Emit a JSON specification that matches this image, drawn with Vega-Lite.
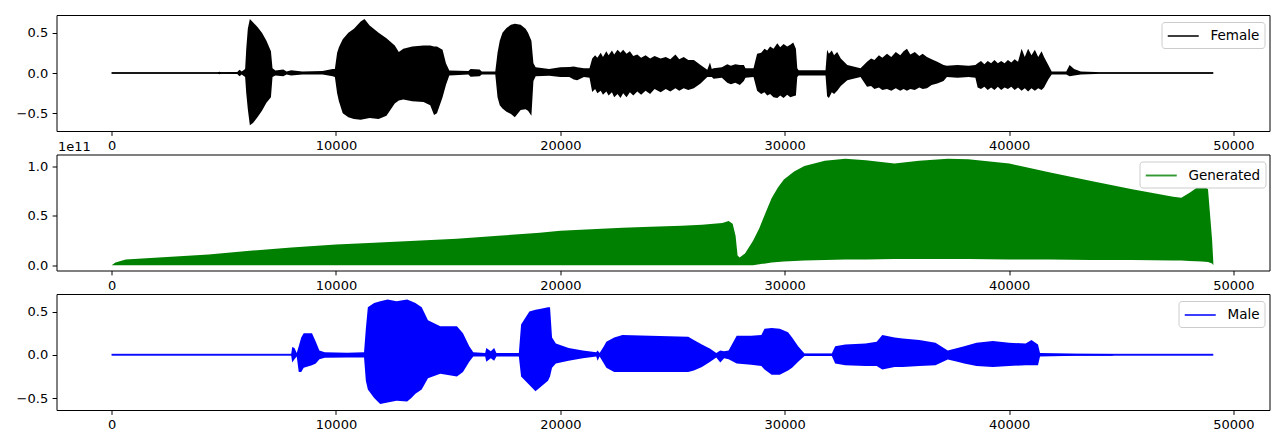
{
  "$schema": "https://vega.github.io/schema/vega-lite/v6.json",
  "padding": {"left": 15.5, "top": 14, "right": 5, "bottom": 5},
  "bounds": "flush",
  "spacing": 23.5,
  "background": "white",
  "config": {
    "view": {"stroke": "black", "strokeWidth": 1},
    "axis": {"domain": false, "grid": false, "tickColor": "black", "tickSize": 4.4, "tickWidth": 1, "labelPadding": 4.4, "labelFont": "DejaVu Sans", "labelFontSize": 13, "labelColor": "black"},
    "legend": {"orient": "none", "legendY": 7, "padding": 5, "strokeColor": "#cccccc", "fillColor": "white", "cornerRadius": 3, "symbolType": "M-1,0H3", "symbolSize": 240, "symbolStrokeWidth": 1.9, "labelFont": "DejaVu Sans", "labelFontSize": 13.5, "labelColor": "black", "labelOffset": 26, "title": null}
  },
  "resolve": {"scale": {"color": "independent", "x": "independent", "y": "independent"}, "legend": {"color": "independent"}},
  "datasets": {
    "female": [
      {"x": 0, "hi": 0.007, "lo": -0.007}, {"x": 4700, "hi": 0.007, "lo": -0.007}, {"x": 4800, "hi": 0.015, "lo": -0.015}, {"x": 4900, "hi": 0.01, "lo": -0.01},
      {"x": 5600, "hi": 0.012, "lo": -0.012}, {"x": 5700, "hi": 0.04, "lo": -0.04}, {"x": 5800, "hi": 0.02, "lo": -0.02}, {"x": 5950, "hi": 0.05, "lo": -0.05},
      {"x": 6000, "hi": 0.3, "lo": -0.25}, {"x": 6070, "hi": 0.55, "lo": -0.45}, {"x": 6160, "hi": 0.67, "lo": -0.65}, {"x": 6300, "hi": 0.63, "lo": -0.62},
      {"x": 6500, "hi": 0.57, "lo": -0.55}, {"x": 6700, "hi": 0.5, "lo": -0.47}, {"x": 6900, "hi": 0.4, "lo": -0.37}, {"x": 7100, "hi": 0.27, "lo": -0.3},
      {"x": 7170, "hi": 0.06, "lo": -0.05}, {"x": 7300, "hi": 0.03, "lo": -0.03}, {"x": 7650, "hi": 0.045, "lo": -0.04}, {"x": 7800, "hi": 0.02, "lo": -0.02},
      {"x": 8000, "hi": 0.035, "lo": -0.03}, {"x": 8500, "hi": 0.02, "lo": -0.02}, {"x": 9400, "hi": 0.025, "lo": -0.02}, {"x": 9850, "hi": 0.05, "lo": -0.04},
      {"x": 9950, "hi": 0.05, "lo": -0.05}, {"x": 10050, "hi": 0.25, "lo": -0.25}, {"x": 10130, "hi": 0.32, "lo": -0.35}, {"x": 10300, "hi": 0.42, "lo": -0.5},
      {"x": 10550, "hi": 0.5, "lo": -0.55}, {"x": 10800, "hi": 0.55, "lo": -0.57}, {"x": 11100, "hi": 0.64, "lo": -0.58}, {"x": 11270, "hi": 0.67, "lo": -0.57},
      {"x": 11500, "hi": 0.59, "lo": -0.56}, {"x": 11900, "hi": 0.5, "lo": -0.57}, {"x": 12250, "hi": 0.43, "lo": -0.53}, {"x": 12620, "hi": 0.34, "lo": -0.38},
      {"x": 12800, "hi": 0.26, "lo": -0.34}, {"x": 13000, "hi": 0.3, "lo": -0.33}, {"x": 13400, "hi": 0.33, "lo": -0.35}, {"x": 13900, "hi": 0.34, "lo": -0.36},
      {"x": 14200, "hi": 0.34, "lo": -0.4}, {"x": 14370, "hi": 0.33, "lo": -0.52}, {"x": 14500, "hi": 0.33, "lo": -0.5}, {"x": 14750, "hi": 0.29, "lo": -0.3},
      {"x": 14900, "hi": 0.12, "lo": -0.15}, {"x": 15050, "hi": 0.03, "lo": -0.03}, {"x": 15900, "hi": 0.025, "lo": -0.02}, {"x": 16000, "hi": 0.05, "lo": -0.045},
      {"x": 16400, "hi": 0.045, "lo": -0.04}, {"x": 16500, "hi": 0.02, "lo": -0.02}, {"x": 17100, "hi": 0.02, "lo": -0.02}, {"x": 17200, "hi": 0.25, "lo": -0.3},
      {"x": 17300, "hi": 0.4, "lo": -0.4}, {"x": 17420, "hi": 0.5, "lo": -0.44}, {"x": 17600, "hi": 0.56, "lo": -0.48}, {"x": 17800, "hi": 0.6, "lo": -0.51},
      {"x": 17970, "hi": 0.61, "lo": -0.55}, {"x": 18230, "hi": 0.6, "lo": -0.46}, {"x": 18450, "hi": 0.55, "lo": -0.45}, {"x": 18560, "hi": 0.5, "lo": -0.47},
      {"x": 18710, "hi": 0.4, "lo": -0.53}, {"x": 18800, "hi": 0.12, "lo": -0.1}, {"x": 18900, "hi": 0.07, "lo": -0.04}, {"x": 19500, "hi": 0.05, "lo": -0.035},
      {"x": 20000, "hi": 0.07, "lo": -0.05}, {"x": 20400, "hi": 0.075, "lo": -0.05}, {"x": 20600, "hi": 0.08, "lo": -0.08}, {"x": 20750, "hi": 0.07, "lo": -0.09},
      {"x": 21050, "hi": 0.06, "lo": -0.05}, {"x": 21300, "hi": 0.06, "lo": -0.06},
      {"x": 21420, "hi": 0.18, "lo": -0.235}, {"x": 21550, "hi": 0.22, "lo": -0.2}, {"x": 21650, "hi": 0.19, "lo": -0.25}, {"x": 21800, "hi": 0.25, "lo": -0.22},
      {"x": 21900, "hi": 0.2, "lo": -0.27}, {"x": 22050, "hi": 0.27, "lo": -0.23}, {"x": 22150, "hi": 0.22, "lo": -0.28}, {"x": 22300, "hi": 0.28, "lo": -0.24},
      {"x": 22400, "hi": 0.23, "lo": -0.3}, {"x": 22550, "hi": 0.29, "lo": -0.26}, {"x": 22680, "hi": 0.25, "lo": -0.31}, {"x": 22800, "hi": 0.29, "lo": -0.25},
      {"x": 22950, "hi": 0.24, "lo": -0.3}, {"x": 23100, "hi": 0.27, "lo": -0.24}, {"x": 23250, "hi": 0.21, "lo": -0.28}, {"x": 23430, "hi": 0.23, "lo": -0.23},
      {"x": 23600, "hi": 0.19, "lo": -0.27}, {"x": 23800, "hi": 0.22, "lo": -0.22}, {"x": 24000, "hi": 0.18, "lo": -0.26}, {"x": 24200, "hi": 0.21, "lo": -0.2},
      {"x": 24470, "hi": 0.18, "lo": -0.24}, {"x": 24700, "hi": 0.2, "lo": -0.2}, {"x": 24900, "hi": 0.17, "lo": -0.23}, {"x": 25130, "hi": 0.23, "lo": -0.19},
      {"x": 25300, "hi": 0.17, "lo": -0.22}, {"x": 25500, "hi": 0.2, "lo": -0.19}, {"x": 25700, "hi": 0.16, "lo": -0.21}, {"x": 25950, "hi": 0.16, "lo": -0.19},
      {"x": 26250, "hi": 0.1, "lo": -0.13}, {"x": 26550, "hi": 0.04, "lo": -0.05}, {"x": 26670, "hi": 0.13, "lo": -0.05}, {"x": 26750, "hi": 0.05, "lo": -0.05},
      {"x": 26830, "hi": 0.06, "lo": -0.07}, {"x": 27200, "hi": 0.07, "lo": -0.06}, {"x": 27440, "hi": 0.11, "lo": -0.12}, {"x": 27600, "hi": 0.09, "lo": -0.14},
      {"x": 27800, "hi": 0.11, "lo": -0.12}, {"x": 28000, "hi": 0.1, "lo": -0.15}, {"x": 28180, "hi": 0.1, "lo": -0.1}, {"x": 28250, "hi": 0.06, "lo": -0.06},
      {"x": 28610, "hi": 0.06, "lo": -0.05}, {"x": 28770, "hi": 0.24, "lo": -0.22}, {"x": 28950, "hi": 0.25, "lo": -0.26}, {"x": 29100, "hi": 0.3, "lo": -0.24},
      {"x": 29220, "hi": 0.28, "lo": -0.28}, {"x": 29350, "hi": 0.33, "lo": -0.26}, {"x": 29500, "hi": 0.3, "lo": -0.3}, {"x": 29670, "hi": 0.37, "lo": -0.31},
      {"x": 29800, "hi": 0.32, "lo": -0.28}, {"x": 29950, "hi": 0.36, "lo": -0.31}, {"x": 30110, "hi": 0.33, "lo": -0.27}, {"x": 30250, "hi": 0.35, "lo": -0.3},
      {"x": 30380, "hi": 0.38, "lo": -0.29}, {"x": 30500, "hi": 0.3, "lo": -0.28}, {"x": 30560, "hi": 0.06, "lo": -0.05}, {"x": 30620, "hi": 0.035, "lo": -0.03},
      {"x": 31820, "hi": 0.035, "lo": -0.03}, {"x": 31890, "hi": 0.29, "lo": -0.29}, {"x": 31970, "hi": 0.24, "lo": -0.31}, {"x": 32100, "hi": 0.28, "lo": -0.24},
      {"x": 32200, "hi": 0.22, "lo": -0.26}, {"x": 32340, "hi": 0.26, "lo": -0.22}, {"x": 32500, "hi": 0.18, "lo": -0.16}, {"x": 32790, "hi": 0.1, "lo": -0.09},
      {"x": 33380, "hi": 0.06, "lo": -0.05}, {"x": 33670, "hi": 0.14, "lo": -0.17}, {"x": 33850, "hi": 0.18, "lo": -0.16}, {"x": 34000, "hi": 0.16, "lo": -0.2},
      {"x": 34200, "hi": 0.22, "lo": -0.18}, {"x": 34350, "hi": 0.19, "lo": -0.21}, {"x": 34560, "hi": 0.24, "lo": -0.2}, {"x": 34750, "hi": 0.2, "lo": -0.22},
      {"x": 34950, "hi": 0.26, "lo": -0.19}, {"x": 35150, "hi": 0.22, "lo": -0.22}, {"x": 35300, "hi": 0.27, "lo": -0.2}, {"x": 35450, "hi": 0.3, "lo": -0.22},
      {"x": 35600, "hi": 0.23, "lo": -0.2}, {"x": 35800, "hi": 0.26, "lo": -0.21}, {"x": 36000, "hi": 0.21, "lo": -0.18}, {"x": 36150, "hi": 0.24, "lo": -0.2},
      {"x": 36340, "hi": 0.2, "lo": -0.19}, {"x": 36550, "hi": 0.17, "lo": -0.15}, {"x": 36800, "hi": 0.14, "lo": -0.13}, {"x": 37080, "hi": 0.1, "lo": -0.1},
      {"x": 37230, "hi": 0.09, "lo": -0.05}, {"x": 37700, "hi": 0.1, "lo": -0.06}, {"x": 38200, "hi": 0.09, "lo": -0.05}, {"x": 38500, "hi": 0.1, "lo": -0.06},
      {"x": 38600, "hi": 0.12, "lo": -0.18}, {"x": 38750, "hi": 0.15, "lo": -0.2}, {"x": 38900, "hi": 0.11, "lo": -0.17}, {"x": 39050, "hi": 0.15, "lo": -0.21},
      {"x": 39200, "hi": 0.12, "lo": -0.18}, {"x": 39350, "hi": 0.16, "lo": -0.21}, {"x": 39500, "hi": 0.12, "lo": -0.17}, {"x": 39650, "hi": 0.15, "lo": -0.21},
      {"x": 39800, "hi": 0.12, "lo": -0.18}, {"x": 39950, "hi": 0.16, "lo": -0.2}, {"x": 40100, "hi": 0.13, "lo": -0.17}, {"x": 40250, "hi": 0.17, "lo": -0.21},
      {"x": 40400, "hi": 0.14, "lo": -0.18}, {"x": 40560, "hi": 0.3, "lo": -0.22}, {"x": 40700, "hi": 0.2, "lo": -0.19}, {"x": 40850, "hi": 0.3, "lo": -0.23},
      {"x": 41000, "hi": 0.22, "lo": -0.19}, {"x": 41150, "hi": 0.29, "lo": -0.22}, {"x": 41300, "hi": 0.2, "lo": -0.19}, {"x": 41450, "hi": 0.27, "lo": -0.21},
      {"x": 41560, "hi": 0.2, "lo": -0.18}, {"x": 41750, "hi": 0.1, "lo": -0.08}, {"x": 41900, "hi": 0.02, "lo": -0.02}, {"x": 42550, "hi": 0.02, "lo": -0.02},
      {"x": 42700, "hi": 0.1, "lo": -0.04}, {"x": 42900, "hi": 0.05, "lo": -0.03}, {"x": 43200, "hi": 0.02, "lo": -0.02}, {"x": 43850, "hi": 0.012, "lo": -0.012},
      {"x": 44000, "hi": 0.007, "lo": -0.007}, {"x": 49100, "hi": 0.007, "lo": -0.007}
    ],
    "generated": [
      {"x": 0, "hi": 0, "lo": 0}, {"x": 170, "hi": 3e9, "lo": 0}, {"x": 630, "hi": 6e9, "lo": 0}, {"x": 2470, "hi": 8.5e9, "lo": 0},
      {"x": 4320, "hi": 1.1e10, "lo": 0}, {"x": 6160, "hi": 1.47e10, "lo": 0}, {"x": 8010, "hi": 1.8e10, "lo": 0}, {"x": 10000, "hi": 2.1e10, "lo": 0},
      {"x": 11700, "hi": 2.3e10, "lo": 0}, {"x": 13540, "hi": 2.5e10, "lo": 0}, {"x": 15390, "hi": 2.7e10, "lo": 0}, {"x": 17230, "hi": 3.0e10, "lo": 0},
      {"x": 19080, "hi": 3.3e10, "lo": 0}, {"x": 20000, "hi": 3.5e10, "lo": 0}, {"x": 20920, "hi": 3.6e10, "lo": 0}, {"x": 22770, "hi": 3.8e10, "lo": 0},
      {"x": 24020, "hi": 3.9e10, "lo": 0}, {"x": 25400, "hi": 4.0e10, "lo": 0}, {"x": 26310, "hi": 4.1e10, "lo": 0}, {"x": 27220, "hi": 4.3e10, "lo": 0},
      {"x": 27500, "hi": 4.5e10, "lo": 0}, {"x": 27680, "hi": 4.2e10, "lo": 0}, {"x": 27810, "hi": 3.0e10, "lo": 0}, {"x": 27900, "hi": 1.0e10, "lo": 0},
      {"x": 27990, "hi": 8e9, "lo": 0}, {"x": 28230, "hi": 1.2e10, "lo": 0}, {"x": 28590, "hi": 2.5e10, "lo": 0}, {"x": 28868, "hi": 3.75e10, "lo": 1e9},
      {"x": 29142, "hi": 5.3e10, "lo": 2e9}, {"x": 29416, "hi": 6.8e10, "lo": 3e9}, {"x": 29690, "hi": 7.85e10, "lo": 3.5e9}, {"x": 29963, "hi": 8.7e10, "lo": 4e9},
      {"x": 30420, "hi": 9.5e10, "lo": 4.5e9}, {"x": 30877, "hi": 1.005e11, "lo": 5e9}, {"x": 31790, "hi": 1.06e11, "lo": 5.5e9}, {"x": 32703, "hi": 1.08e11, "lo": 6e9},
      {"x": 33616, "hi": 1.065e11, "lo": 6e9}, {"x": 34895, "hi": 1.03e11, "lo": 6.5e9}, {"x": 35991, "hi": 1.06e11, "lo": 6.5e9}, {"x": 37270, "hi": 1.08e11, "lo": 6.5e9},
      {"x": 38183, "hi": 1.075e11, "lo": 6.5e9}, {"x": 40009, "hi": 1.03e11, "lo": 6e9}, {"x": 41836, "hi": 9.4e10, "lo": 6e9}, {"x": 43662, "hi": 8.55e10, "lo": 5.5e9},
      {"x": 45489, "hi": 7.7e10, "lo": 5.5e9}, {"x": 47315, "hi": 6.95e10, "lo": 5e9}, {"x": 47680, "hi": 6.85e10, "lo": 5e9}, {"x": 48046, "hi": 7.35e10, "lo": 4.5e9},
      {"x": 48594, "hi": 8.2e10, "lo": 4e9}, {"x": 48868, "hi": 7.7e10, "lo": 3.5e9}, {"x": 49050, "hi": 2.6e10, "lo": 2e9}, {"x": 49105, "hi": 3e9, "lo": 0}
    ],
    "male": [
      {"x": 0, "hi": 0.006, "lo": -0.006}, {"x": 8000, "hi": 0.006, "lo": -0.006}, {"x": 8050, "hi": 0.09, "lo": -0.09}, {"x": 8150, "hi": 0.08, "lo": -0.05},
      {"x": 8250, "hi": 0.02, "lo": -0.02}, {"x": 8340, "hi": 0.1, "lo": -0.2}, {"x": 8450, "hi": 0.2, "lo": -0.2}, {"x": 8560, "hi": 0.25, "lo": -0.15},
      {"x": 8930, "hi": 0.25, "lo": -0.12}, {"x": 9100, "hi": 0.15, "lo": -0.1}, {"x": 9260, "hi": 0.05, "lo": -0.05}, {"x": 9500, "hi": 0.03, "lo": -0.035},
      {"x": 10500, "hi": 0.025, "lo": -0.03}, {"x": 11250, "hi": 0.03, "lo": -0.03}, {"x": 11330, "hi": 0.3, "lo": -0.3}, {"x": 11420, "hi": 0.55, "lo": -0.4},
      {"x": 11700, "hi": 0.6, "lo": -0.5}, {"x": 11970, "hi": 0.62, "lo": -0.57}, {"x": 12300, "hi": 0.64, "lo": -0.55}, {"x": 12700, "hi": 0.62, "lo": -0.53}, {"x": 13170, "hi": 0.64, "lo": -0.54},
      {"x": 13360, "hi": 0.62, "lo": -0.5}, {"x": 13540, "hi": 0.6, "lo": -0.45}, {"x": 13820, "hi": 0.55, "lo": -0.4}, {"x": 14100, "hi": 0.4, "lo": -0.27},
      {"x": 14650, "hi": 0.33, "lo": -0.22}, {"x": 15390, "hi": 0.33, "lo": -0.25}, {"x": 15660, "hi": 0.25, "lo": -0.2}, {"x": 15940, "hi": 0.1, "lo": -0.08},
      {"x": 16120, "hi": 0.03, "lo": -0.02}, {"x": 16650, "hi": 0.02, "lo": -0.02}, {"x": 16700, "hi": 0.08, "lo": -0.08}, {"x": 16900, "hi": 0.04, "lo": -0.04},
      {"x": 17050, "hi": 0.08, "lo": -0.07}, {"x": 17150, "hi": 0.02, "lo": -0.02}, {"x": 18150, "hi": 0.02, "lo": -0.02}, {"x": 18250, "hi": 0.35, "lo": -0.25},
      {"x": 18620, "hi": 0.5, "lo": -0.35}, {"x": 18890, "hi": 0.52, "lo": -0.42}, {"x": 19080, "hi": 0.53, "lo": -0.38}, {"x": 19450, "hi": 0.55, "lo": -0.3},
      {"x": 19540, "hi": 0.55, "lo": -0.25}, {"x": 19630, "hi": 0.2, "lo": -0.15}, {"x": 19800, "hi": 0.13, "lo": -0.1}, {"x": 20370, "hi": 0.08, "lo": -0.07},
      {"x": 21000, "hi": 0.05, "lo": -0.04}, {"x": 21600, "hi": 0.03, "lo": -0.02}, {"x": 21660, "hi": 0.05, "lo": -0.07}, {"x": 21750, "hi": 0.02, "lo": -0.02},
      {"x": 21940, "hi": 0.1, "lo": -0.1}, {"x": 22050, "hi": 0.15, "lo": -0.15}, {"x": 22400, "hi": 0.2, "lo": -0.2}, {"x": 22770, "hi": 0.23, "lo": -0.2},
      {"x": 24000, "hi": 0.22, "lo": -0.2}, {"x": 25700, "hi": 0.21, "lo": -0.2}, {"x": 25950, "hi": 0.17, "lo": -0.18}, {"x": 26310, "hi": 0.12, "lo": -0.14},
      {"x": 26680, "hi": 0.07, "lo": -0.08}, {"x": 26950, "hi": 0.02, "lo": -0.03}, {"x": 27130, "hi": 0.05, "lo": -0.09}, {"x": 27300, "hi": 0.04, "lo": -0.04},
      {"x": 27500, "hi": 0.05, "lo": -0.05}, {"x": 27860, "hi": 0.22, "lo": -0.1}, {"x": 28500, "hi": 0.22, "lo": -0.115}, {"x": 28960, "hi": 0.23, "lo": -0.13},
      {"x": 29100, "hi": 0.3, "lo": -0.17}, {"x": 29420, "hi": 0.31, "lo": -0.23}, {"x": 29780, "hi": 0.3, "lo": -0.23}, {"x": 30150, "hi": 0.26, "lo": -0.18},
      {"x": 30330, "hi": 0.2, "lo": -0.15}, {"x": 30600, "hi": 0.1, "lo": -0.08}, {"x": 30880, "hi": 0.015, "lo": -0.015}, {"x": 32100, "hi": 0.015, "lo": -0.015},
      {"x": 32250, "hi": 0.1, "lo": -0.1}, {"x": 32700, "hi": 0.12, "lo": -0.12}, {"x": 33600, "hi": 0.13, "lo": -0.13}, {"x": 34100, "hi": 0.15, "lo": -0.13},
      {"x": 34350, "hi": 0.23, "lo": -0.17}, {"x": 34900, "hi": 0.2, "lo": -0.14}, {"x": 35260, "hi": 0.19, "lo": -0.14}, {"x": 36000, "hi": 0.17, "lo": -0.13},
      {"x": 36720, "hi": 0.14, "lo": -0.12}, {"x": 37270, "hi": 0.05, "lo": -0.055}, {"x": 37700, "hi": 0.08, "lo": -0.08}, {"x": 38000, "hi": 0.1, "lo": -0.1},
      {"x": 38550, "hi": 0.14, "lo": -0.13}, {"x": 39280, "hi": 0.16, "lo": -0.14}, {"x": 40000, "hi": 0.14, "lo": -0.13}, {"x": 40740, "hi": 0.13, "lo": -0.12},
      {"x": 41000, "hi": 0.17, "lo": -0.12}, {"x": 41290, "hi": 0.12, "lo": -0.12}, {"x": 41380, "hi": 0.02, "lo": -0.02}, {"x": 43000, "hi": 0.012, "lo": -0.012},
      {"x": 44570, "hi": 0.01, "lo": -0.01}, {"x": 44700, "hi": 0.006, "lo": -0.006}, {"x": 49100, "hi": 0.006, "lo": -0.006}
    ]
  },
  "vconcat": [
    {
      "width": 1213, "height": 116,
      "data": {"name": "female"},
      "layer": [
        {"mark": {"type": "area", "color": "black", "opacity": 1},
         "encoding": {
           "x": {"field": "x", "type": "quantitative", "scale": {"domain": [-2458, 51609], "nice": false, "zero": false}, "axis": {"values": [0, 10000, 20000, 30000, 40000, 50000], "format": "d", "title": null}},
           "y": {"field": "hi", "type": "quantitative", "scale": {"domain": [-0.72, 0.72], "nice": false, "zero": false}, "axis": {"values": [-0.5, 0, 0.5], "labelExpr": "replace(format(datum.value, '.1f'), '-', '\u2212')", "title": null}},
           "y2": {"field": "lo"}
         }},
        {"mark": {"type": "line", "strokeWidth": 1.9, "opacity": 0.8},
         "encoding": {
           "x": {"field": "x", "type": "quantitative"},
           "y": {"datum": 0, "type": "quantitative"},
           "color": {"datum": "Female", "scale": {"domain": ["Female"], "range": ["#000000"]}, "legend": {"symbolOpacity": 0.8, "legendX": 1105}}
         }}
      ]
    },
    {
      "width": 1213, "height": 116,
      "data": {"name": "generated"},
      "layer": [
        {"mark": {"type": "area", "color": "#008000", "opacity": 1},
         "encoding": {
           "x": {"field": "x", "type": "quantitative", "scale": {"domain": [-2458, 51609], "nice": false, "zero": false}, "axis": {"values": [0, 10000, 20000, 30000, 40000, 50000], "format": "d", "title": null}},
           "y": {"field": "hi", "type": "quantitative", "scale": {"domain": [-5.2e9, 1.122e11], "nice": false, "zero": false}, "axis": {"values": [0, 5e10, 1e11], "labelExpr": "format(datum.value / 1e11, '.1f')", "title": "1e11", "titleAngle": 0, "titleAlign": "left", "titleBaseline": "alphabetic", "titleX": 1, "titleY": -4, "titleFont": "DejaVu Sans", "titleFontSize": 13, "titleFontWeight": "normal", "titleColor": "black"}},
           "y2": {"field": "lo"}
         }},
        {"mark": {"type": "line", "strokeWidth": 1, "opacity": 0},
         "encoding": {
           "x": {"field": "x", "type": "quantitative"},
           "y": {"field": "lo", "type": "quantitative"},
           "color": {"datum": "Generated", "scale": {"domain": ["Generated"], "range": ["#008000"]}, "legend": {"symbolOpacity": 0.8, "legendX": 1083}}
         }}
      ]
    },
    {
      "width": 1213, "height": 116,
      "data": {"name": "male"},
      "layer": [
        {"mark": {"type": "area", "color": "#0000ff", "opacity": 1},
         "encoding": {
           "x": {"field": "x", "type": "quantitative", "scale": {"domain": [-2458, 51609], "nice": false, "zero": false}, "axis": {"values": [0, 10000, 20000, 30000, 40000, 50000], "format": "d", "title": null}},
           "y": {"field": "hi", "type": "quantitative", "scale": {"domain": [-0.638, 0.703], "nice": false, "zero": false}, "axis": {"values": [-0.5, 0, 0.5], "labelExpr": "replace(format(datum.value, '.1f'), '-', '\u2212')", "title": null}},
           "y2": {"field": "lo"}
         }},
        {"mark": {"type": "line", "strokeWidth": 1.9, "opacity": 0.8},
         "encoding": {
           "x": {"field": "x", "type": "quantitative"},
           "y": {"datum": 0, "type": "quantitative"},
           "color": {"datum": "Male", "scale": {"domain": ["Male"], "range": ["#0000ff"]}, "legend": {"symbolOpacity": 0.8, "legendX": 1122}}
         }}
      ]
    }
  ]
}
